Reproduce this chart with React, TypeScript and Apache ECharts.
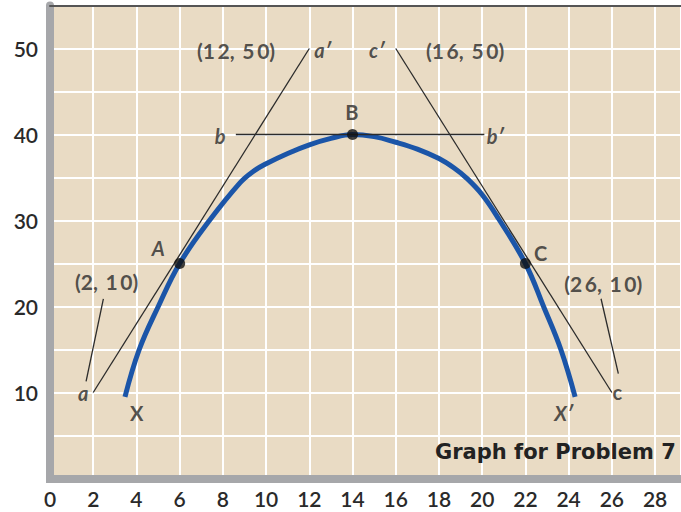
import React, { useEffect, useRef } from "react";
import * as echarts from "echarts";

// Curve XX'
const curveX = [3.47, 4.13, 5.01, 6, 7.35, 8.8, 9.4, 10, 11, 12, 13, 14, 15, 16, 17, 18, 18.7, 19.29, 20, 20.76, 22, 22.84, 23.64, 24.3];
const curveY = [9.5, 15, 20, 25, 29.9, 34.4, 35.7, 36.6, 37.8, 38.8, 39.55, 40, 39.75, 39.1, 38.3, 37.2, 36.1, 34.9, 33.0, 30.2, 25, 20, 15, 9.5];

// Tangent lines
const lineAX = [2, 12];
const lineAY = [10, 50];
const lineBX = [8.6, 20.1];
const lineBY = [40, 40];
const lineCX = [16, 26];
const lineCY = [50, 10];

// Leader lines from coordinate labels
const leaderLX = [2.47, 1.67];
const leaderLY = [20.9, 11.3];
const leaderRX = [25.5, 26.3];
const leaderRY = [20.9, 12.2];

// Points on the curve
const pointNames = ["A", "B", "C"];
const pointX = [6, 14, 22];
const pointY = [25, 40, 25];

// Annotation texts
const T = "\u2009";
const labelTexts = [`(1${T}2,${T} 5${T}0)`, "a\u2032", "c\u2032", `(1${T}6,${T} 5${T}0)`, "B", "b", "b\u2032", "A", `(2,${T} 1${T}0)`, "C", `(2${T}6,${T} 1${T}0)`, "a", "c", "X", "X\u2032"];
const labelX = [8.61, 12.62, 15.12, 19.21, 13.97, 7.87, 20.6, 5.01, 2.62, 22.7, 25.6, 1.54, 26.25, 4.01, 23.77];
const labelY = [49.8, 49.8, 49.8, 49.8, 42.6, 39.8, 39.8, 26.8, 22.9, 26.2, 22.7, 10.0, 10.1, 7.6, 7.6];
const labelItalic = [false, true, true, false, false, true, true, true, false, false, false, true, false, false, true];

const xMin = 0;
const xMax = 29.2;
const xStep = 2;
const yMin = 0;
const yMax = 55;
const yStep = 5;
const yLabelValues = [10, 20, 30, 40, 50];

const titleText = "Graph for Problem 7";

const zip = (xs: number[], ys: number[]) => xs.map((x, i) => [x, ys[i]]);

export default function App() {
  const ref = useRef<HTMLDivElement>(null);
  useEffect(() => {
    if (!ref.current) return;
    const chart = echarts.init(ref.current, undefined, { renderer: "svg" });
    const thin = (name: string, xs: number[], ys: number[]) => ({
      name,
      type: "line",
      data: zip(xs, ys),
      showSymbol: false,
      symbol: "none",
      lineStyle: { color: "#2b2b2b", width: 1.3 },
      z: 3,
      silent: true,
    });
    const option: any = {
      animation: false,
      grid: {
        left: 50,
        right: 0,
        top: 5.5,
        bottom: 33.5,
        show: true,
        backgroundColor: "#e9dbc4",
        borderWidth: 0,
      },
      xAxis: [
        {
          type: "value",
          min: xMin,
          max: xMax,
          interval: xStep,
          axisLine: { show: true, onZero: false, lineStyle: { color: "#a6a7aa", width: 8, cap: "square" } },
          axisTick: { show: false },
          splitLine: { show: true, lineStyle: { color: "#ffffff", width: 2 } },
          axisLabel: {
            showMaxLabel: false,
            margin: 9,
            fontSize: 21,
            fontWeight: 600,
            fontFamily: "Lato",
            color: "#2a2a2a",
          },
        },
        {
          type: "value",
          position: "top",
          min: xMin,
          max: xMax,
          axisLine: { show: true, onZero: false, lineStyle: { color: "#555555", width: 2 } },
          axisTick: { show: false },
          splitLine: { show: false },
          axisLabel: { show: false },
        },
      ],
      yAxis: {
        type: "value",
        min: yMin,
        max: yMax,
        interval: yStep,
        axisLine: { show: true, onZero: false, lineStyle: { color: "#a6a7aa", width: 8 } },
        axisTick: { show: false },
        splitLine: { show: true, lineStyle: { color: "#ffffff", width: 2 } },
        axisLabel: {
          showMaxLabel: false,
          margin: 12,
          fontSize: 21,
          fontWeight: 600,
          fontFamily: "Lato",
          color: "#2a2a2a",
          formatter: (v: number) => (yLabelValues.includes(v) ? String(v) : ""),
        },
      },
      graphic: [
        {
          type: "text",
          left: 435,
          top: 441,
          z: 10,
          style: {
            text: titleText,
            font: 'bold 21px "DejaVu Sans"',
            fill: "#222222",
          },
        },
      ],
      series: [
        thin("aa", lineAX, lineAY),
        thin("bb", lineBX, lineBY),
        thin("cc", lineCX, lineCY),
        thin("leaderL", leaderLX, leaderLY),
        thin("leaderR", leaderRX, leaderRY),
        {
          name: "XX",
          type: "line",
          data: zip(curveX, curveY),
          smooth: 0.4,
          showSymbol: false,
          symbol: "none",
          lineStyle: { color: "#1b55a8", width: 5, cap: "butt" },
          z: 2,
        },
        {
          name: "points",
          type: "scatter",
          data: pointNames.map((n, i) => ({ name: n, value: [pointX[i], pointY[i]] })),
          symbolSize: 11,
          itemStyle: { color: "#111111" },
          z: 5,
        },
        {
          name: "labels",
          type: "scatter",
          data: labelTexts.map((t, i) => ({
            value: [labelX[i], labelY[i]],
            label: {
              show: true,
              formatter: t,
              position: "inside",
              fontStyle: labelItalic[i] ? "italic" : "normal",
              fontSize: t.length > 2 ? 21 : 20,
              fontWeight: "bold",
              fontFamily: "Lato",
              color: "#2a2a2a",
            },
          })),
          symbolSize: 1,
          itemStyle: { color: "rgba(0,0,0,0)" },
          z: 6,
          silent: true,
        },
      ],
    };
    chart.setOption(option);
    return () => chart.dispose();
  }, []);
  return <div ref={ref} style={{ width: 681, height: 512, position: "absolute", left: 0, top: 0 }} />;
}
